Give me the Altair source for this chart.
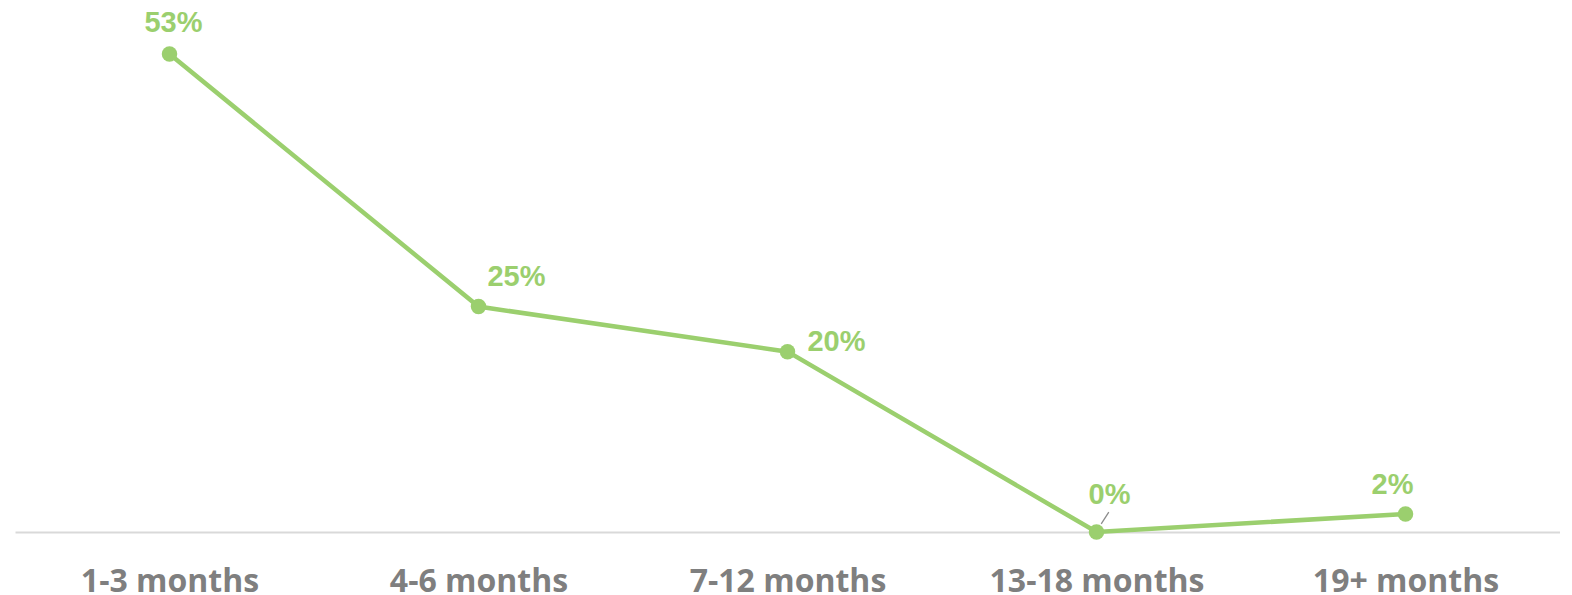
import altair as alt
import pandas as pd

categories = ["1-3 months", "4-6 months", "7-12 months", "13-18 months", "19+ months"]
values = [53, 25, 20, 0, 2]
labels = ["53%", "25%", "20%", "0%", "2%"]

df = pd.DataFrame({"cat": categories, "val": values, "lab": labels})

GREEN = "#9BCF6E"
GREY = "#7F7F7F"

x = alt.X("cat:N", sort=categories,
          scale=alt.Scale(type="point", padding=0.5),
          axis=alt.Axis(title=None, labelAngle=0, ticks=False, domainColor="#D9D9D9",
                        domainWidth=2, labelFont="Open Sans", labelFontWeight="bold",
                        labelFontSize=32, labelColor=GREY, labelPadding=34, labelLimit=500,
                        grid=False))
y = alt.Y("val:Q", scale=alt.Scale(domain=[0, 58], nice=False, zero=True), axis=None)

base = alt.Chart(df).encode(x=x, y=y)

line = base.mark_line(color=GREEN, strokeWidth=4.5)
pts = base.mark_circle(color=GREEN, size=240, opacity=1)

offsets = {"53%": (4, -22), "25%": (38, -21), "20%": (49, -1), "0%": (13, -28), "2%": (-13, -20)}
texts = []
for lab, (dx, dy) in offsets.items():
    texts.append(
        base.transform_filter(alt.datum.lab == lab).mark_text(
            font="Liberation Sans", fontWeight="bold", fontSize=29, color=GREEN,
            align="center", baseline="alphabetic", dx=dx, dy=dy
        ).encode(text="lab:N")
    )

leader = base.transform_filter(alt.datum.lab == "0%").mark_point(
    shape="M-0.32,0.5L0.32,-0.5", filled=False, stroke="#8C8C8C", strokeWidth=1.3,
    size=560, xOffset=8.5, yOffset=-14, opacity=1
)

chart = alt.layer(line, leader, pts, *texts).properties(
    width=1545, height=523,
    autosize=alt.AutoSizeParams(type="none"),
    padding={"left": 7, "top": 1, "right": 0, "bottom": 63},
).configure_view(stroke=None)

chart.save("out.html", embed_options={"renderer": "svg", "actions": False})
